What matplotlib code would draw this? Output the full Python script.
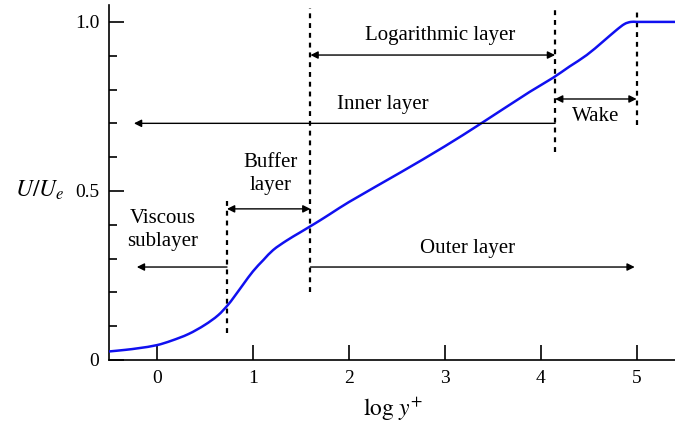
import matplotlib
matplotlib.use("Agg")
import matplotlib.pyplot as plt
import numpy as np
from matplotlib.path import Path
from matplotlib.patches import PathPatch
from matplotlib.ticker import MultipleLocator

plt.rcParams["font.family"] = ["Liberation Serif", "DejaVu Serif"]
plt.rcParams["mathtext.fontset"] = "stix"

# Mean velocity profile of a turbulent boundary layer
log_yplus = [-0.51, -0.33, -0.19, 0.0, 0.15, 0.33, 0.50, 0.64, 0.74, 0.80,
             0.90, 1.00, 1.11, 1.21, 1.35, 1.49, 1.59, 1.70, 1.80, 2.0, 2.54,
             3.0, 3.38, 3.885, 4.13, 4.30, 4.48, 4.65, 4.79, 4.875, 4.94, 5.0, 5.4]
u_ratio = [0.025, 0.030, 0.035, 0.044, 0.057, 0.077, 0.104, 0.133, 0.163,
           0.185, 0.224, 0.262, 0.296, 0.325, 0.353, 0.377, 0.394, 0.413, 0.431,
           0.467, 0.555, 0.632, 0.700, 0.793, 0.835, 0.868, 0.902, 0.942, 0.976,
           0.994, 1.0, 1.0, 1.0]

# Region boundaries (log y+) and the extent of each dotted marker (U/Ue)
bounds = [0.73, 1.6, 4.15, 5.0]
bound_lo = [0.08, 0.20, 0.615, 0.695]
bound_hi = [0.48, 1.04, 1.04, 1.04]


def smooth_path(xs, ys):
    """Cubic Bezier path through the points (Hermite tangents)."""
    x = np.asarray(xs, float)
    y = np.asarray(ys, float)
    m = np.empty_like(y)
    m[1:-1] = (y[2:] - y[:-2]) / (x[2:] - x[:-2])
    m[0] = (y[1] - y[0]) / (x[1] - x[0])
    m[-1] = (y[-1] - y[-2]) / (x[-1] - x[-2])
    verts = [(x[0], y[0])]
    codes = [Path.MOVETO]
    for i in range(len(x) - 1):
        h = x[i + 1] - x[i]
        verts += [(x[i] + h / 3, y[i] + m[i] * h / 3),
                  (x[i + 1] - h / 3, y[i + 1] - m[i + 1] * h / 3),
                  (x[i + 1], y[i + 1])]
        codes += [Path.CURVE4] * 3
    return Path(verts, codes)


fig = plt.figure(figsize=(6.75, 4.25), dpi=100)
ax = fig.add_axes([109 / 675, 65 / 425, 566 / 675, 355 / 425])

ax.add_patch(PathPatch(smooth_path(log_yplus, u_ratio), facecolor="none",
                       edgecolor="#1010f0", lw=1.8, zorder=3))

for xb, lo, hi in zip(bounds, bound_lo, bound_hi):
    ax.plot([xb, xb], [lo, hi], color="black", lw=1.6, ls=(0, (2.2, 2.2)), zorder=2)


def arrow(x0, x1, y, style):
    ax.annotate("", xy=(x1, y), xytext=(x0, y),
                arrowprops=dict(arrowstyle=style, color="black", lw=1.0,
                                mutation_scale=11, shrinkA=0, shrinkB=0))


arrow(bounds[1], bounds[2], 0.902, "<|-|>")
arrow(bounds[2], -0.24, 0.70, "-|>")
arrow(bounds[2], bounds[3], 0.772, "<|-|>")
arrow(bounds[0], bounds[1], 0.447, "<|-|>")
arrow(bounds[0], -0.21, 0.275, "-|>")
arrow(bounds[1], 4.98, 0.275, "-|>")

fs = 15
ax.text(2.95, 0.96, "Logarithmic layer", ha="center", va="center", fontsize=fs)
ax.text(2.35, 0.757, "Inner layer", ha="center", va="center", fontsize=fs)
ax.text(4.57, 0.72, "Wake", ha="center", va="center", fontsize=fs)
ax.text(1.18, 0.55, "Buffer\nlayer", ha="center", va="center", fontsize=fs,
        linespacing=1.3)
ax.text(0.06, 0.385, "Viscous\nsublayer", ha="center", va="center", fontsize=fs,
        linespacing=1.3)
ax.text(3.24, 0.33, "Outer layer", ha="center", va="center", fontsize=fs)

ax.set_xlim(-0.5, 5.4)
ax.set_ylim(0, 1.05)
ax.spines["top"].set_visible(False)
ax.spines["right"].set_visible(False)
for s in ("left", "bottom"):
    ax.spines[s].set_linewidth(1.2)

ax.set_xticks([0, 1, 2, 3, 4, 5])
ax.set_yticks([0, 0.5, 1.0])
ax.set_yticklabels(["0", "0.5", "1.0"])
ax.yaxis.set_minor_locator(MultipleLocator(0.1))
ax.tick_params(which="major", direction="in", length=11, width=1.2,
               labelsize=14, pad=7)
ax.tick_params(which="minor", direction="in", length=6, width=1.2)
ax.tick_params(axis="x", which="minor", length=0)

fig.text(393 / 675, 1 - 409 / 425, r"$\mathrm{log}\ y^{+}$", ha="center",
         va="center", fontsize=17)
fig.text(40 / 675, 1 - 190 / 425, r"$U/U_e$", ha="center", va="center",
         fontsize=17)

fig.savefig("out.png", dpi=100)
